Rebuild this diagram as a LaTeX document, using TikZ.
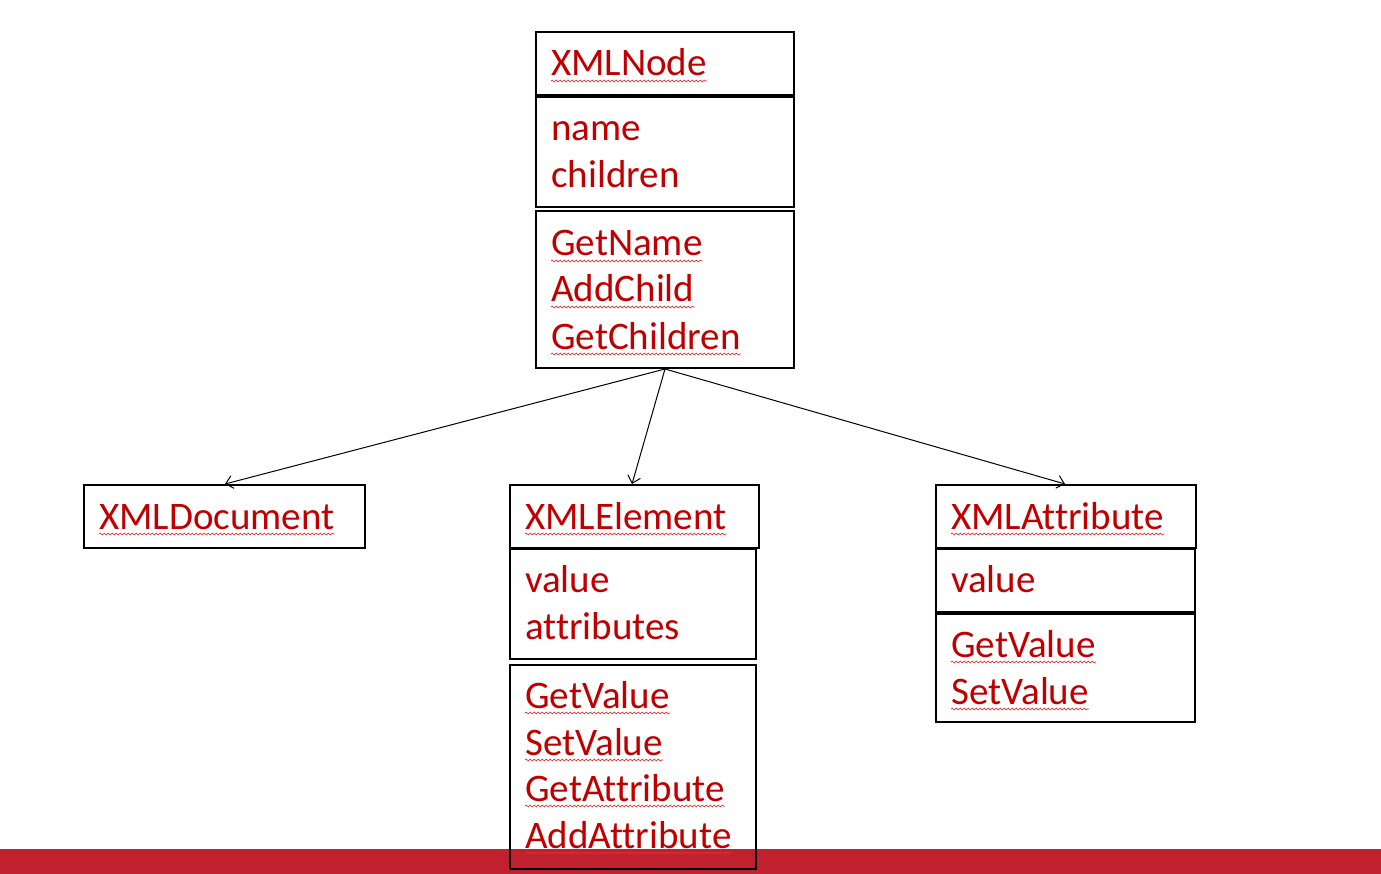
\documentclass[tikz,border=0pt]{standalone}
\usepackage{fontspec}
\setmainfont[Ligatures={NoCommon}]{Carlito}
\usetikzlibrary{arrows.meta,decorations.pathmorphing}
\definecolor{txtred}{HTML}{C00000}
\definecolor{barred}{HTML}{C1202F}
\definecolor{squigred}{HTML}{E03030}
\tikzset{
  box/.style={draw=black, line width=2pt, rectangle, inner sep=0pt, anchor=north west},
  lbl/.style={text=txtred, anchor=base west, inner sep=0pt, font=\fontsize{39}{47}\selectfont},
  squig/.style={draw=squigred, line width=0.7pt, decorate, decoration={snake, amplitude=0.9pt, segment length=4pt}},
  inherit/.style={draw=black, line width=1pt, -{Straight Barb[length=7pt,width=13pt,line width=1pt]}}
}
\newcommand{\sq}[1]{\draw[squig] ([yshift=-5pt]#1.base west) -- ([yshift=-5pt]#1.base east);}
\begin{document}
\begin{tikzpicture}[x=1pt,y=-1pt]
\useasboundingbox (0,0) rectangle (1381,874);
% bottom bar
\fill[barred] (0,849) rectangle (1381,874);

% XMLNode
\node[box, minimum width=258pt, minimum height=63pt] (nodeH) at (535,31) {};
\node[box, minimum width=258pt, minimum height=110pt] (nodeA) at (535,96) {};
\node[box, minimum width=258pt, minimum height=157pt] (nodeM) at (535,210) {};
\node[lbl] (tNode) at (551,76) {XMLNode}; \sq{tNode}
\node[lbl] (tName) at (551,141) {name};
\node[lbl] (tChildren) at (551,188) {children};
\node[lbl] (tGetName) at (551,256) {GetName}; \sq{tGetName}
\node[lbl] (tAddChild) at (551,302) {AddChild}; \sq{tAddChild}
\node[lbl] (tGetChildren) at (551,349) {GetChildren}; \sq{tGetChildren}

% XMLDocument
\node[box, minimum width=281pt, minimum height=63pt] (docH) at (83,484) {};
\node[lbl] (tDoc) at (99,529) {XMLDocument}; \sq{tDoc}

% XMLElement
\node[box, minimum width=249pt, minimum height=63pt] (elH) at (509,484) {};
\node[box, minimum width=246pt, minimum height=110pt] (elA) at (509,548) {};
\node[box, minimum width=246pt, minimum height=204pt] (elM) at (509,664) {};
\node[lbl] (tEl) at (525,529) {XMLElement}; \sq{tEl}
\node[lbl] (tElValue) at (525,592) {value};
\node[lbl] (tElAttrs) at (525,639) {attributes};
\node[lbl] (tElGet) at (525,708) {GetValue}; \sq{tElGet}
\node[lbl] (tElSet) at (525,755) {SetValue}; \sq{tElSet}
\node[lbl] (tElGetA) at (525,801) {GetAttribute}; \sq{tElGetA}
\node[lbl] (tElAddA) at (525,848) {AddAttribute}; \sq{tElAddA}

% XMLAttribute
\node[box, minimum width=260pt, minimum height=63pt] (atH) at (935,484) {};
\node[box, minimum width=259pt, minimum height=63pt] (atA) at (935,548) {};
\node[box, minimum width=259pt, minimum height=108pt] (atM) at (935,613) {};
\node[lbl] (tAt) at (951,529) {XMLAttribute}; \sq{tAt}
\node[lbl] (tAtValue) at (951,592) {value};
\node[lbl] (tAtGet) at (951,657) {GetValue}; \sq{tAtGet}
\node[lbl] (tAtSet) at (951,704) {SetValue}; \sq{tAtSet}

% connectors
\coordinate (src) at (nodeM.south);
\draw[inherit] (src) -- ([xshift=142pt]docH.north west);
\draw[inherit] (src) -- ([xshift=123pt]elH.north west);
\draw[inherit] (src) -- ([xshift=130pt]atH.north west);
\end{tikzpicture}
\end{document}
